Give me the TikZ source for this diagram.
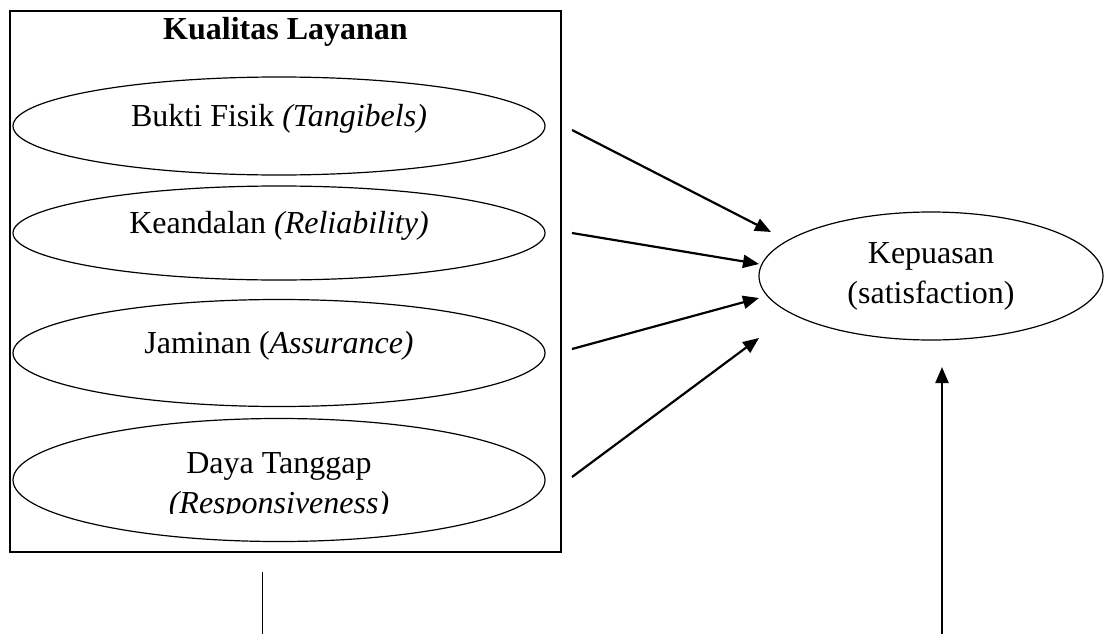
\documentclass[tikz,border=0pt]{standalone}
\usepackage{fontspec}
\setmainfont{Liberation Serif}
\usetikzlibrary{shapes.geometric,arrows.meta}
\tikzset{
  oval/.style={ellipse, draw, line width=1.2pt, inner sep=0pt, text height=10pt, text depth=10pt},
  frame/.style={draw, line width=2.2pt, inner sep=0pt},
  arr/.style={line width=2.2pt, -{Triangle[length=16pt,width=13pt]}},
  thin line/.style={line width=1.2pt},
  txt/.style={inner sep=0pt, anchor=base}
}
\begin{document}
\begin{tikzpicture}[x=1pt, y=-1pt, font=\fontsize{32}{40}\selectfont]
\useasboundingbox (0,0) rectangle (1110,634);
% frame
\node[frame, minimum width=551pt, minimum height=541pt] (box) at (285.5,281.5) {};
\node[txt] (title) at (285.5,40) {\textbf{Kualitas Layanan}};
% ovals
\node[oval, minimum width=532pt, minimum height=98pt] (e1) at (279,126) {Bukti Fisik \textit{(Tangibels)}};
\node[oval, minimum width=532pt, minimum height=94pt] (e2) at (279,233) {Keandalan \textit{(Reliability)}};
\node[oval, minimum width=532pt, minimum height=107pt] (e3) at (279,353) {Jaminan (\textit{Assurance)}};
\node[oval, minimum width=532pt, minimum height=123pt] (e4) at (279,480) {};
\node[txt] (t4a) at (279,473) {Daya Tanggap};
\begin{scope}
\clip (0,0) rectangle (1110,513);
\node[txt] (t4b) at (279,513) {\textit{(Responsiveness)}};
\end{scope}
\node[oval, minimum width=344pt, minimum height=128pt, text height=, text depth=, align=center] (kep) at (931,276) {Kepuasan\\(satisfaction)};
% connectors
\coordinate (s1) at (572,130);
\coordinate (t1) at (771,232);
\coordinate (s2) at (572,233);
\coordinate (t2) at (759,264);
\coordinate (s3) at (572,349);
\coordinate (t3) at (759,298);
\coordinate (s4) at (572,477);
\coordinate (t4) at (759,338);
\coordinate (s5) at (942,634);
\coordinate (t5) at (942,367);
\coordinate (l1) at (262.5,572);
\coordinate (l2) at (262.5,634);
\draw[arr] (s1) -- (t1);
\draw[arr] (s2) -- (t2);
\draw[arr] (s3) -- (t3);
\draw[arr] (s4) -- (t4);
\draw[arr] (s5) -- (t5);
\draw[thin line] (l1) -- (l2);
\end{tikzpicture}
\end{document}
